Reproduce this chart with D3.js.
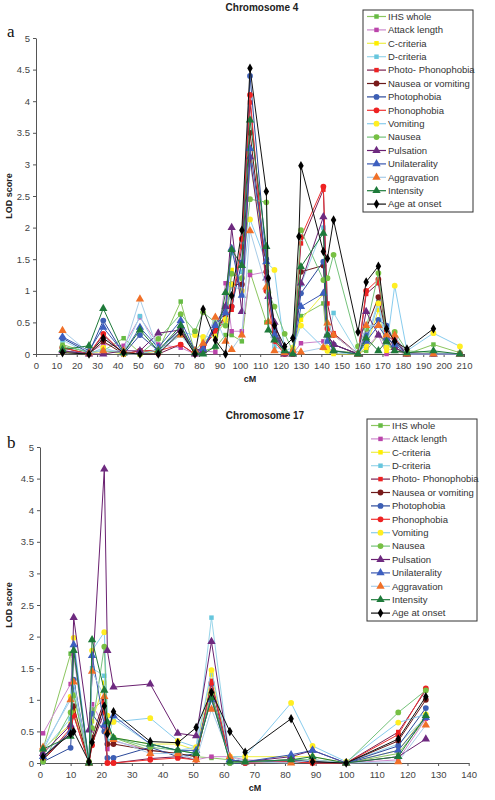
<!DOCTYPE html>
<html><head><meta charset="utf-8">
<script src="https://cdn.jsdelivr.net/npm/d3@7"></script>
<style>body{margin:0;background:#fff}svg{display:block}</style>
</head><body><svg id="c" width="495" height="800"></svg>
<script>
// ---------- series definitions ----------
const seriesNames = ["IHS whole","Attack length","C-criteria","D-criteria","Photo- Phonophobia","Nausea or vomiting","Photophobia","Phonophobia","Vomiting","Nausea","Pulsation","Unilaterality","Aggravation","Intensity","Age at onset"];
const lineColors   = ["#8cc660","#cc88cc","#eeee44","#99d5ea","#7a2050","#6b1a1a","#2c4a9a","#ee3333","#88ccee","#74c27a","#6a2070","#3a58b0","#a8cce8","#1e7a3a","#111111"];
const markerColors = ["#66bb44","#bb44aa","#ffee00","#66c6dd","#ee2222","#7a1a1a","#3d5fb5","#ee2222","#ffee22","#77c043","#6e2a80","#3d5fc0","#f07028","#1e7a3a","#000000"];
const markerShapes = ["square","square","square","square","square","circle","circle","circle","circle","circle","triangle","triangle","triangle","triangle","diamond"];

// ---------- Chromosome 4 ----------
const xTicksA = [0,10,20,30,40,50,60,70,80,90,100,110,120,130,140,150,160,170,180,190,200,210];
const yTicks = [0,0.5,1,1.5,2,2.5,3,3.5,4,4.5,5];
const posA = [13,26,33,43,51,60,71,78,82,88,93,96,101,105,113,114,117,122,126,129,130,141,143,146,158,162,168,172,176,182,195,208];
const a_ihs      = [0.15,0.02,0.05,0.25,0.02,0.05,0.83,0.02,0.05,0.10,0.30,0.30,0.20,1.30,0.50,null,0.25,0.00,0.02,null,0.60,0.80,0.05,0.05,0.02,0.05,0.30,0.15,0.05,0.00,0.15,0.02];
const a_attack   = [0.05,0.02,0.15,0.13,0.58,0.15,0.10,0.00,0.05,0.03,1.12,0.36,0.36,1.25,1.30,null,0.20,0.00,0.00,null,0.17,0.20,0.10,0.05,0.00,0.10,0.30,0.00,0.05,0.00,0.00,0.00];
const a_ccrit    = [0.03,0.00,0.05,0.00,0.00,0.05,0.30,0.05,0.20,0.30,0.50,1.33,1.10,3.04,1.40,null,0.40,0.00,0.05,null,0.54,0.95,0.10,0.00,0.00,0.10,0.70,0.05,0.10,0.00,0.00,0.00];
const a_dcrit    = [0.22,0.00,0.30,0.02,0.60,0.05,0.30,0.02,0.05,0.45,0.70,1.60,1.30,2.99,1.70,null,0.12,0.05,0.02,null,1.10,2.00,0.20,0.65,0.00,0.20,0.85,0.25,0.15,0.00,0.00,0.00];
const a_photophono=[0.05,0.00,0.30,0.00,0.00,0.00,0.15,0.00,0.10,0.40,0.60,0.70,1.70,3.98,1.20,null,0.30,0.02,0.00,null,1.75,2.60,0.80,0.33,0.00,0.95,1.12,0.30,0.20,0.00,0.00,0.00];
const a_nauvom   = [0.10,0.00,0.20,0.00,0.05,0.05,0.40,0.05,0.10,0.35,0.60,1.10,1.10,3.50,1.30,null,0.35,0.02,0.00,null,1.30,1.40,0.30,0.15,0.00,0.40,0.90,0.30,0.10,0.00,0.00,0.00];
const a_photo    = [0.25,0.02,0.53,0.00,0.30,0.05,0.40,0.02,0.10,0.47,0.75,0.75,1.45,4.40,1.50,null,0.40,0.02,0.00,null,0.96,1.46,0.30,0.15,0.00,0.30,0.54,0.45,0.20,0.02,0.00,0.00];
const a_phono    = [0.10,0.00,0.32,0.00,0.05,0.05,0.15,0.00,0.12,0.35,0.55,0.75,1.82,4.10,1.00,null,0.20,0.00,0.00,null,1.85,2.65,0.40,0.30,0.00,1.00,1.18,0.35,0.25,0.02,0.00,0.00];
const a_vomit    = [0.05,0.00,0.10,0.00,0.00,0.07,0.35,0.30,0.27,0.28,0.55,1.10,1.00,2.13,1.45,null,1.33,0.05,0.10,null,0.45,0.10,0.05,0.02,0.00,0.15,0.80,0.10,1.08,0.05,0.33,0.12];
const a_nausea   = [0.12,0.03,0.05,0.02,0.00,0.24,0.63,0.36,0.66,0.50,0.45,1.27,1.20,2.45,2.40,0.97,0.75,0.32,0.05,null,1.96,1.17,1.20,1.57,0.12,0.40,1.28,0.25,0.35,0.05,0.02,0.00];
const a_pulsation= [0.05,0.00,0.00,0.05,0.05,0.33,0.38,0.00,0.05,0.45,0.75,2.00,0.67,3.12,1.20,0.91,0.50,0.00,0.00,null,1.12,2.17,0.30,0.15,0.00,0.67,0.30,0.20,0.10,0.00,0.00,0.00];
const a_unilat   = [0.27,0.05,0.42,0.02,0.42,0.10,0.53,0.05,0.08,0.45,0.65,1.67,0.93,3.25,1.46,null,0.30,0.05,0.02,null,0.75,0.96,0.20,0.05,0.00,0.20,0.45,0.25,0.15,0.00,0.00,0.00];
const a_aggrav   = [0.37,0.02,0.05,0.05,0.87,0.05,0.30,0.05,0.17,0.58,0.20,0.07,0.30,1.95,1.06,0.51,0.05,0.02,0.05,null,0.03,0.10,0.49,0.30,0.00,0.45,0.45,0.30,0.30,0.00,0.00,0.00];
const a_intens   = [0.07,0.13,0.72,0.02,0.38,0.05,0.45,0.02,0.00,0.12,0.97,1.65,1.40,3.70,1.70,0.38,0.22,0.05,0.00,null,1.38,1.91,0.30,0.05,0.00,0.25,0.05,0.20,0.05,0.02,0.05,0.00];
const a_age      = [0.02,0.00,0.25,0.02,0.00,0.00,0.35,0.00,0.71,0.22,0.00,0.92,1.96,4.52,2.57,1.20,0.45,0.12,0.25,1.86,2.98,1.62,1.51,2.12,0.35,1.14,1.39,0.40,0.20,0.08,0.40,null];

// ---------- Chromosome 17 ----------
const xTicksB = [0,10,20,30,40,50,60,70,80,90,100,110,120,130,140];
const posB = [1,10,11,16,17,21,22,24,36,45,51,56,62,67,82,89,100,117,126];
const b_ihs      = [0.22,1.73,1.10,0.00,0.85,1.00,0.50,0.40,0.20,0.15,0.10,0.08,0.05,0.02,0.05,0.05,0.00,0.15,0.70];
const b_attack   = [0.47,1.25,1.70,0.00,0.93,0.58,0.22,0.35,0.20,0.15,0.05,0.10,0.10,0.05,0.02,0.02,0.00,0.05,0.70];
const b_ccrit    = [0.22,0.62,0.83,0.00,0.66,1.27,0.50,0.40,0.30,0.30,0.20,1.40,0.10,0.10,0.10,0.10,0.00,0.20,0.75];
const b_dcrit    = [0.20,0.70,1.20,0.00,1.50,1.38,0.35,0.70,0.30,0.20,0.25,2.30,0.05,0.02,0.05,0.05,0.00,0.30,0.72];
const b_photophono=[0.05,0.50,0.76,0.00,0.30,0.80,0.00,0.00,0.07,0.10,0.05,1.30,0.05,0.00,0.02,0.00,0.00,0.49,1.15];
const b_nauvom   = [0.05,0.50,0.90,0.00,0.40,1.00,0.30,0.30,0.20,0.15,0.10,1.10,0.05,0.02,0.05,0.02,0.00,0.35,1.00];
const b_photo    = [0.02,0.24,1.32,0.00,0.78,0.50,0.08,0.08,0.25,0.10,0.15,1.25,0.00,0.00,0.05,0.02,0.00,0.27,0.87];
const b_phono    = [0.05,0.55,0.75,0.00,0.28,0.95,0.00,0.00,0.05,0.08,0.05,1.27,0.05,0.00,0.02,0.00,0.00,0.45,1.18];
const b_vomit    = [0.20,1.05,1.98,0.00,1.78,2.07,0.75,0.65,0.71,0.35,0.25,1.47,0.10,0.10,0.95,0.27,0.02,0.64,0.77];
const b_nausea   = [0.02,0.80,1.07,0.02,0.55,1.84,0.60,0.40,0.25,0.20,0.15,1.10,0.00,0.02,0.05,0.05,0.00,0.80,1.15];
const b_pulsation= [0.15,0.60,2.30,0.52,null,4.65,1.78,1.20,1.25,0.47,0.43,1.92,0.05,0.02,0.10,0.20,0.00,0.10,0.38];
const b_unilat   = [0.10,0.50,1.87,0.00,1.70,0.60,0.50,0.75,0.30,0.20,0.20,1.00,0.05,0.02,0.13,0.20,0.00,0.20,0.72];
const b_aggrav   = [0.25,1.00,1.28,0.00,1.45,1.05,0.50,0.37,0.15,0.15,0.05,0.85,0.10,0.02,0.00,0.05,0.00,0.02,0.60];
const b_intens   = [0.22,0.42,1.78,0.00,1.95,1.15,0.65,0.40,0.30,0.20,0.15,1.03,0.02,0.02,0.05,0.10,0.00,0.10,0.75];
const b_age      = [0.10,0.46,0.50,0.02,0.33,0.90,0.46,0.81,0.34,0.32,0.56,1.12,0.50,0.17,0.70,0.02,0.00,0.38,1.05];

const valuesA = [a_ihs,a_attack,a_ccrit,a_dcrit,a_photophono,a_nauvom,a_photo,a_phono,a_vomit,a_nausea,a_pulsation,a_unilat,a_aggrav,a_intens,a_age];
const valuesB = [b_ihs,b_attack,b_ccrit,b_dcrit,b_photophono,b_nauvom,b_photo,b_phono,b_vomit,b_nausea,b_pulsation,b_unilat,b_aggrav,b_intens,b_age];

const svg = d3.select("#c");
const FONT = "Liberation Sans, Arial, sans-serif";

function symbolPath(shape){
  const m = {square:[d3.symbolSquare,20], circle:[d3.symbolCircle,26], triangle:[d3.symbolTriangle,30], diamond:[d3.symbolDiamond,26]}[shape];
  return d3.symbol().type(m[0]).size(m[1])();
}

function drawPanel(cfg){
  const g = svg.append("g");
  const x = d3.scaleLinear().domain([0,cfg.xMax]).range([cfg.left,cfg.right]);
  const y = d3.scaleLinear().domain([0,5]).range([cfg.bottom,cfg.top]);

  // axes
  const ya = g.append("g").attr("transform",`translate(${cfg.left},0)`)
    .call(d3.axisLeft(y).tickValues(yTicks).tickSize(3).tickSizeOuter(0).tickFormat(d=>String(d)));
  const xa = g.append("g").attr("transform",`translate(0,${cfg.bottom})`)
    .call(d3.axisBottom(x).tickValues(cfg.xTicks).tickSize(3).tickSizeOuter(0).tickFormat(d=>String(d)));
  [ya,xa].forEach(a=>{
    a.selectAll("path,line").attr("stroke","#555").attr("stroke-width",1);
    a.selectAll("text").attr("fill","#444").style("font-family",FONT).style("font-size","9.5px");
  });
  xa.selectAll("text").attr("dy","0.9em");

  // series
  const line = d3.line().x(d=>x(d[0])).y(d=>y(d[1]));
  cfg.values.forEach((vals,i)=>{
    const pts = cfg.pos.map((p,j)=>[p,vals[j]]).filter(d=>d[1]!==null);
    g.append("path").datum(pts).attr("d",line).attr("fill","none")
      .attr("stroke",lineColors[i]).attr("stroke-width",1);
    g.append("g").selectAll("path").data(pts).join("path")
      .attr("d",symbolPath(markerShapes[i]))
      .attr("transform",d=>`translate(${x(d[0])},${y(d[1])})`)
      .attr("fill",markerColors[i]);
  });

  // titles & labels
  g.append("text").attr("x",cfg.titleX).attr("y",cfg.titleY).attr("text-anchor","middle")
    .style("font-family",FONT).style("font-size","10px").style("font-weight","bold").attr("fill","#222").text(cfg.title);
  g.append("text").attr("x",7).attr("y",cfg.letterY).style("font-family","Liberation Serif, Times New Roman, serif")
    .style("font-size","17px").attr("fill","#111").text(cfg.letter);
  g.append("text").attr("transform",`translate(12,${(cfg.top+cfg.bottom)/2}) rotate(-90)`).attr("text-anchor","middle")
    .style("font-family",FONT).style("font-size","9px").style("font-weight","bold").attr("fill","#222").text("LOD score");
  g.append("text").attr("x",cfg.cmX).attr("y",cfg.bottom+28).attr("text-anchor","middle")
    .style("font-family",FONT).style("font-size","9px").style("font-weight","bold").attr("fill","#222").text("cM");

  // legend
  const L = cfg.legend;
  g.append("rect").attr("x",L.x).attr("y",L.y).attr("width",L.w).attr("height",L.h)
    .attr("fill","#fff").attr("stroke","#333").attr("stroke-width",1);
  seriesNames.forEach((n,i)=>{
    const yy = L.y + 6.5 + i*13.4;
    g.append("line").attr("x1",L.x+4).attr("x2",L.x+23).attr("y1",yy).attr("y2",yy)
      .attr("stroke",lineColors[i]).attr("stroke-width",1.2);
    g.append("path").attr("d",symbolPath(markerShapes[i])).attr("transform",`translate(${L.x+13.5},${yy})`).attr("fill",markerColors[i]);
    g.append("text").attr("x",L.x+25).attr("y",yy+3.3).style("font-family",FONT).style("font-size","9.5px")
      .attr("fill","#333").text(n);
  });
}

drawPanel({title:"Chromosome 4", letter:"a", letterY:37, titleX:262, titleY:11,
  xMax:210, xTicks:xTicksA, left:36, right:464, top:38, bottom:354, cmX:250,
  pos:posA, values:valuesA, legend:{x:363,y:10,w:110,h:202}});
drawPanel({title:"Chromosome 17", letter:"b", letterY:448, titleX:265, titleY:419,
  xMax:140, xTicks:xTicksB, left:40, right:468.7, top:447, bottom:763, cmX:255,
  pos:posB, values:valuesB, legend:{x:367,y:419,w:110,h:202}});
</script></body></html>
